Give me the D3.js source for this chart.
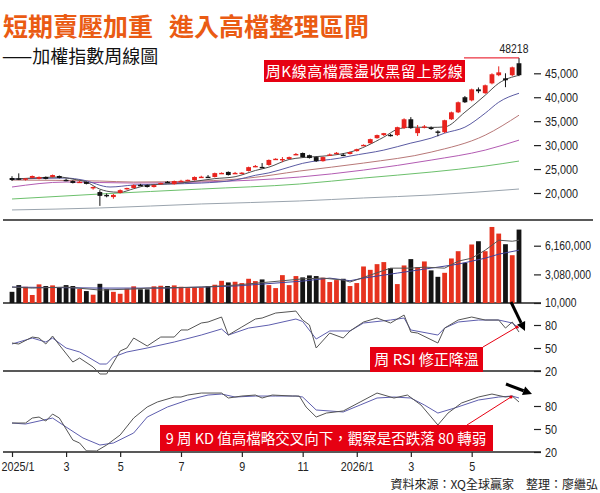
<!DOCTYPE html>
<html>
<head>
<meta charset="utf-8">
<script src="https://cdn.jsdelivr.net/npm/d3@7"></script>
<style>
  body { margin: 0; background: #fff; }
  svg { display: block; }
  .tk text { font-family: 'Liberation Sans', Arial, sans-serif; font-size: 13px; fill: #222; }
  .tk line { stroke: #222; stroke-width: 1.2; }
  .cjk { font-family: 'Noto Sans CJK TC', 'Noto Sans CJK SC', sans-serif; }
</style>
</head>
<body>
<div id="chart"></div>
<script>
// ---- data ----
const tickIdx = [0, 8, 16, 25, 34, 43, 51, 59, 68];
const tickLabels = ["2025/1", "3", "5", "7", "9", "11", "2026/1", "3", "5"];

const priceTicks = [20000, 25000, 30000, 35000, 40000, 45000];
const volTicks = [10000, 3080000, 6160000];
const oscTicks = [20, 50, 80];

// weekly candles: [open, high, low, close]
const candles = [
  [23130,23500,22500,22710],[23050,24100,22700,22950],[22900,23100,22600,23050],[23150,23650,23050,23550],[22950,23450,22850,23350],
  [23350,23450,22850,22950],[23350,23850,23250,23750],[23550,23650,23050,23150],[22750,23000,22450,22650],[22500,22650,22000,22100],
  [22250,22550,22100,22350],[22300,22400,21800,21900],[21050,21350,20700,21250],[20200,20600,17306,19400],[19600,19900,19100,19400],
  [19150,19800,18800,19600],[20000,20750,19900,20600],[20950,21100,20700,21050],[21050,21800,20950,21650],[21700,21900,21450,21600],
  [21650,21750,21150,21250],[21250,21750,21150,21650],[22000,22150,21800,22100],[22350,22500,22100,22250],[21850,22600,21750,22500],
  [22450,22750,22300,22550],[22650,22800,22450,22750],[22700,23450,22600,23350],[23300,23600,23150,23400],[23400,23750,23250,23300],
  [23350,24250,23250,24150],[24100,24300,24000,24200],[24400,24500,23650,23750],[24100,24400,23950,24200],[24150,24350,24050,24250],
  [24600,25500,24500,25400],[25550,25850,25400,25650],[25450,26250,25300,25350],[25850,27000,25700,26900],[27050,27250,26950,27150],
  [27000,27500,26450,27100],[27100,27600,27000,27500],[28050,28350,27900,28150],[28350,28450,27400,27500],[27900,28000,27200,27300],
  [27500,27600,26500,26650],[26650,27600,26550,27500],[27950,28250,27800,28050],[28250,28550,28100,28400],[28000,28250,27700,27750],
  [28150,28650,28050,28550],[28750,29250,28650,29150],[29950,30150,29850,30050],[30400,31350,30300,31250],[31450,32200,31350,32100],
  [32100,32550,31900,32500],[32150,32350,31800,32000],[32100,33850,31900,33750],[33550,35600,33400,35400],[35400,35850,33400,33550],
  [32500,34200,31900,33550],[33800,34200,33500,33900],[33650,33900,33200,33450],[32850,33100,31850,32700],[32700,35300,32500,35200],
  [35400,37000,35250,36850],[36850,39100,36700,38950],[40000,40250,38800,38950],[39350,41800,39150,41650],[41650,42050,40850,41250],
  [40850,42650,40700,42500],[42900,45000,42700,44800],[44600,46450,44400,45200],[43950,45000,42100,43550],[44600,46400,44400,46250],
  [47100,48218,44400,44600]
];

const volumes = [
  1210000,1930000,1750000,870000,2010000,1830000,1900000,1690000,1930000,1830000,
  1510000,1290000,900000,2070000,1510000,1210000,1000000,1540000,1800000,1480000,
  1480000,1800000,1860000,1830000,1900000,1750000,1610000,1690000,1690000,1830000,
  1970000,2390000,2220000,2290000,2150000,2610000,2360000,2540000,1930000,1610000,
  3000000,1930000,2900000,2760000,2970000,2900000,2720000,2260000,2470000,2610000,
  1830000,2150000,3930000,3570000,4180000,4400000,3750000,2040000,4040000,4720000,
  3860000,4470000,3510000,2820000,3250000,4790000,5570000,4320000,6290000,6640000,
  5570000,8170000,7460000,6320000,5140000,7890000
];

// moving averages, sampled [week index, value]
const maShort = [[0,22900],[4,23200],[7,23330],[9,22900],[11,22290],[13,20800],[15,20200],[16,20150],[18,20900],[20,21600],[25,22080],[30,23000],[33,23400],[36,24700],[38,25400],[41,27000],[43,27400],[46,27700],[48.5,28100],[50,28540],[55,31670],[57,33300],[59,33750],[62,33700],[64,33800],[67,36875],[70,40420],[72,42920],[75,44580]];
const maMid = [[0,22900],[8,23125],[10.5,22700],[14.5,21250],[18,21670],[23,21875],[28,22080],[33,22700],[36,23700],[38,24200],[41,25400],[43,26200],[48.5,27290],[50,27710],[55,28960],[59,30420],[62,31460],[64,32500],[67,33750],[70,36670],[72,38960],[75,40830]];
const maQuarter = [[0,22710],[13,22500],[18,22290],[28,22500],[35,23125],[42.5,24580],[52,26250],[62,28540],[70,32080],[75,36250]];
const maHalf = [[0,21250],[8,22290],[18,22080],[28,22290],[42.5,23330],[52,24790],[62,26875],[70,28960],[75,31040]];
const maYear = [[0,18750],[13,19790],[28,20830],[42.5,21875],[52,23125],[62,24375],[70,25625],[75,26670]];
const maLong = [[0,16460],[13,16875],[28,17710],[42.5,18330],[52,18960],[62,19580],[75,20830]];

const volMaShort = [[0,1720000],[3,1610000],[8,1720000],[13,1400000],[18,1510000],[20,1610000],[28,1720000],[33,1930000],[38,2260000],[43,2600000],[46,2680000],[49,2470000],[50,2260000],[56,3750000],[59,3750000],[61,3860000],[64,3750000],[66,4500000],[68,4820000],[70,5680000],[72,6750000],[74,6640000],[75,6750000]];
const volMaLong = [[0,1720000],[13,1610000],[23,1610000],[33,1830000],[43,2360000],[47,2680000],[50,2400000],[52,2680000],[57,3220000],[62,3750000],[66,4180000],[70,4820000],[72,5250000],[75,5680000]];

const rsiShort = [[0,56.5],[1,55.2],[3,64.3],[4,63],[5,55.2],[6,65.6],[7,53.9],[9,31.7],[10,36.9],[12,25.2],[13,16.1],[14,16.1],[16,46.1],[17,50],[18,63],[20,52.6],[22,64.3],[24,64.3],[25,73.5],[26,73.5],[28,82.6],[29,83.9],[31,90.4],[32,66.9],[34,77.4],[36,87.8],[37,89.1],[39,95.6],[42,98.2],[43,86.5],[44,80],[45,50],[47,69.5],[49,63],[50,72.2],[52,83.9],[54,89.1],[56,82.6],[58,93],[59,70.8],[60,69.5],[63,56.5],[64,76],[66,86.5],[68,90.4],[70,86.5],[72,86.5],[73,76],[74,83.9],[75,70.8]];
const rsiLong = [[0,55.2],[3,63],[5,57.8],[6,63],[8,50],[10,44.8],[13,29.1],[14,29.1],[15,38.2],[17,44.8],[20,50],[24,57.8],[28,66.9],[31,74.8],[32,66.9],[35,76],[38,79.9],[42,87.8],[43,84.6],[45,61.7],[47,72.2],[50,72.2],[52,82.6],[56,86.5],[58,89.1],[59,73.5],[63,66.9],[64,76],[66,83.9],[69,86.5],[72,86.5],[74,82.6],[75,76]];

const kLine = [[0,57.8],[2,57.8],[3,64.3],[4,65.6],[5,60.4],[6,69.5],[7,64.3],[9,35.6],[10,31.7],[11,21.5],[12.5,21.3],[14,29.1],[16,42.2],[18,64.3],[20,78.7],[21.5,85.2],[24,91.7],[25,91.7],[26,94.3],[28,96.9],[31,96.9],[32,90.4],[34,93],[36,94.3],[37,90.4],[38.5,94.3],[41.5,93],[42.5,93],[43.5,78.7],[45,65.6],[46.5,70.8],[49,73.5],[51.5,85.2],[54,96.9],[56.5,90.4],[58.5,94.3],[60.5,81.3],[63,55.2],[64.5,70.8],[66.5,83.9],[69,91.7],[71,95.6],[73,91.7],[74,93],[75,85.2]];
const dLine = [[0,57.8],[2,56.5],[4,60.4],[6,64.3],[8,52.6],[10.5,38.3],[13,29.1],[15,31.7],[18,44.8],[20,65.6],[23,78.7],[26,87.8],[29,94.3],[31,95.6],[33,91.7],[36,93],[39,93],[42,93],[43,91.7],[45,74.8],[49,72.2],[51.5,81.3],[54,90.4],[56.5,91.7],[59,90.4],[61,81.3],[63,70.8],[65.5,77.4],[69,87.8],[72,91.7],[74,93],[75,90.4]];

// ---- drawing ----
const W = 600, H = 493;
const RED = "#e8231e", BLACK = "#141414", BOX = "#e60012";

const svg = d3.select("#chart").append("svg")
    .attr("width", W).attr("height", H)
    .attr("viewBox", `0 0 ${W} ${H}`);
svg.append("rect").attr("width", W).attr("height", H).attr("fill", "#fff");

const x = d3.scaleLinear().domain([0, 75]).range([12, 519]);
const yP = d3.scaleLinear().domain([20000, 45000]).range([193, 73.3]);
const yV = d3.scaleLinear().domain([10000, 6160000]).range([303, 245.7]);
const yR = d3.scaleLinear().domain([20, 80]).range([371, 325]);
const yK = d3.scaleLinear().domain([20, 80]).range([452, 406]);

const bw = 4.8; // bar width

// narrow the number labels (condensed look of the original)
function squeeze(sel, k) {
    sel.each(function () {
        const w = this.getComputedTextLength();
        d3.select(this).attr("textLength", w * k).attr("lengthAdjust", "spacingAndGlyphs");
    });
}

// title
svg.append("text").attr("class", "cjk")
    .attr("x", 3).attr("y", 36)
    .attr("font-size", 25).attr("font-weight", 700).attr("fill", "#ea5b13")
    .text("短期賣壓加重");
svg.append("text").attr("class", "cjk")
    .attr("x", 169).attr("y", 36)
    .attr("font-size", 25).attr("font-weight", 700).attr("fill", "#ea5b13")
    .text("進入高檔整理區間");
svg.append("text").attr("class", "cjk")
    .attr("x", 2).attr("y", 63)
    .attr("font-size", 18).attr("fill", "#111")
    .text("——加權指數周線圖");

function lineOf(yScale, curve) {
    return d3.line().x(d => x(d[0])).y(d => yScale(d[1])).curve(curve || d3.curveLinear);
}

// panel baselines
function hline(y, x1, x2, w) {
    svg.append("line").attr("x1", x1).attr("x2", x2).attr("y1", y).attr("y2", y)
        .attr("stroke", "#222").attr("stroke-width", w);
}
hline(220, 3, 593, 1.6);
hline(303, 3, 541, 1.4);
hline(371, 3, 541, 1.4);
hline(452, 3, 541, 1.4);

// ---- price panel ----
const maSeries = [
    {d: maLong, c: "#9aa4ae"},
    {d: maYear, c: "#6cc06c"},
    {d: maHalf, c: "#b35cb3"},
    {d: maQuarter, c: "#b87878"},
    {d: maMid, c: "#5b5ba3"},
    {d: maShort, c: "#4d4d4d"}
];
const gMa = svg.append("g");
maSeries.forEach(s => {
    gMa.append("path").datum(s.d)
        .attr("d", lineOf(yP, d3.curveMonotoneX))
        .attr("fill", "none").attr("stroke", s.c).attr("stroke-width", 1);
});

const gC = svg.append("g");
candles.forEach((c, i) => {
    const [o, h, l, cl] = c;
    const col = cl >= o ? RED : BLACK;
    const cx = x(i);
    gC.append("line")
        .attr("x1", cx).attr("x2", cx).attr("y1", yP(h)).attr("y2", yP(l))
        .attr("stroke", col).attr("stroke-width", 1);
    const top = yP(Math.max(o, cl)), bot = yP(Math.min(o, cl));
    gC.append("rect")
        .attr("x", cx - bw / 2).attr("width", bw)
        .attr("y", top).attr("height", Math.max(1.4, bot - top))
        .attr("fill", col);
});

const pAxis = svg.append("g").attr("class", "tk").attr("transform", "translate(534,0)")
    .call(d3.axisRight(yP).tickValues(priceTicks).tickFormat(d3.format(",")).tickSize(7).tickPadding(4));
pAxis.select(".domain").remove();
squeeze(pAxis.selectAll("text"), 0.83);

// high label + annotation
const hiLab = svg.append("text")
    .attr("x", 514).attr("y", 53).attr("text-anchor", "middle")
    .attr("font-family", "'Liberation Sans', Arial, sans-serif")
    .attr("font-size", 12.5).attr("fill", "#222")
    .text(d3.max(candles, d => d[1]));
squeeze(hiLab, 0.83);
svg.append("line").attr("x1", 464).attr("x2", x(75)).attr("y1", yP(48218)).attr("y2", yP(48218))
    .attr("stroke", BOX).attr("stroke-width", 1);
svg.append("rect").attr("x", 264).attr("y", 60).attr("width", 201).attr("height", 22).attr("fill", BOX);
svg.append("text").attr("class", "cjk")
    .attr("x", 364.5).attr("y", 76.5).attr("text-anchor", "middle")
    .attr("font-size", 15).attr("fill", "#fff").attr("letter-spacing", 0.6)
    .text("周K線高檔震盪收黑留上影線");

// ---- volume panel ----
const gV = svg.append("g");
volumes.forEach((v, i) => {
    const c = candles[i];
    gV.append("rect")
        .attr("x", x(i) - bw / 2).attr("width", bw)
        .attr("y", yV(v)).attr("height", yV(10000) - yV(v))
        .attr("fill", c[3] >= c[0] ? "#e6321e" : BLACK);
});
[{d: volMaLong, c: "#44449a"}, {d: volMaShort, c: "#555"}].forEach(s => {
    svg.append("path").datum(s.d)
        .attr("d", lineOf(yV))
        .attr("fill", "none").attr("stroke", s.c).attr("stroke-width", 1);
});
const vAxis = svg.append("g").attr("class", "tk").attr("transform", "translate(534,0)")
    .call(d3.axisRight(yV).tickValues(volTicks).tickFormat(d3.format(",")).tickSize(7).tickPadding(4));
vAxis.select(".domain").remove();
vAxis.selectAll("text").style("font-size", "12px");
squeeze(vAxis.selectAll("text"), 0.86);

// ---- RSI panel ----
[{d: rsiLong, c: "#5e5eae"}, {d: rsiShort, c: "#555"}].forEach(s => {
    svg.append("path").datum(s.d)
        .attr("d", lineOf(yR))
        .attr("fill", "none").attr("stroke", s.c).attr("stroke-width", 1);
});
const rAxis = svg.append("g").attr("class", "tk").attr("transform", "translate(534,0)")
    .call(d3.axisRight(yR).tickValues(oscTicks).tickSize(7).tickPadding(4));
rAxis.select(".domain").remove();
squeeze(rAxis.selectAll("text"), 0.83);

svg.append("line").attr("x1", 483).attr("y1", 347).attr("x2", 517).attr("y2", 327)
    .attr("stroke", BOX).attr("stroke-width", 1);
svg.append("circle").attr("cx", 517).attr("cy", 327).attr("r", 1.6).attr("fill", BOX);
svg.append("rect").attr("x", 370).attr("y", 347).attr("width", 113).attr("height", 25).attr("fill", BOX);
svg.append("text").attr("class", "cjk")
    .attr("x", 426.5).attr("y", 365).attr("text-anchor", "middle")
    .attr("font-size", 15).attr("fill", "#fff")
    .text("周 RSI 修正降溫");

// ---- KD panel ----
[{d: dLine, c: "#5e5eae"}, {d: kLine, c: "#555"}].forEach(s => {
    svg.append("path").datum(s.d)
        .attr("d", lineOf(yK))
        .attr("fill", "none").attr("stroke", s.c).attr("stroke-width", 1);
});
const kAxis = svg.append("g").attr("class", "tk").attr("transform", "translate(534,0)")
    .call(d3.axisRight(yK).tickValues(oscTicks).tickSize(7).tickPadding(4));
kAxis.select(".domain").remove();
squeeze(kAxis.selectAll("text"), 0.83);

svg.append("line").attr("x1", 467).attr("y1", 425).attr("x2", 511).attr("y2", 397)
    .attr("stroke", BOX).attr("stroke-width", 1);
svg.append("circle").attr("cx", 511).attr("cy", 397).attr("r", 1.6).attr("fill", BOX);
svg.append("rect").attr("x", 160).attr("y", 425).attr("width", 333).attr("height", 26).attr("fill", BOX);
svg.append("text").attr("class", "cjk")
    .attr("x", 326).attr("y", 443.5).attr("text-anchor", "middle")
    .attr("font-size", 14.5).attr("fill", "#fff")
    .text("9 周 KD 值高檔略交叉向下，觀察是否跌落 80 轉弱");

// black arrows
function arrow(x1, y1, x2, y2) {
    const a = Math.atan2(y2 - y1, x2 - x1), L = 9, Wd = 4.5;
    const bx = x2 - L * Math.cos(a), by = y2 - L * Math.sin(a);
    svg.append("line").attr("x1", x1).attr("y1", y1).attr("x2", bx).attr("y2", by)
        .attr("stroke", "#000").attr("stroke-width", 3);
    const pts = [[x2, y2],
        [bx + Wd * Math.sin(a), by - Wd * Math.cos(a)],
        [bx - Wd * Math.sin(a), by + Wd * Math.cos(a)]];
    svg.append("polygon").attr("points", pts.map(p => p.join(",")).join(" ")).attr("fill", "#000");
}
arrow(511, 302, 525, 331);
arrow(506, 384, 532, 394);

// x axis
const xAxis = svg.append("g").attr("class", "tk").attr("transform", "translate(0,452)")
    .call(d3.axisBottom(x).tickValues(tickIdx).tickFormat((d, i) => tickLabels[i]).tickSize(5).tickPadding(5));
xAxis.select(".domain").remove();
squeeze(xAxis.selectAll("text"), 0.83);
// first label sits just right of its tick so it stays inside the frame
xAxis.selectAll("text").filter((d, i) => i === 0).attr("x", 5.5);

// source
svg.append("text").attr("class", "cjk")
    .attr("x", 598).attr("y", 489).attr("text-anchor", "end")
    .attr("font-size", 12).attr("fill", "#222")
    .text("資料來源：XQ全球贏家　整理：廖繼弘");
</script>
</body>
</html>
